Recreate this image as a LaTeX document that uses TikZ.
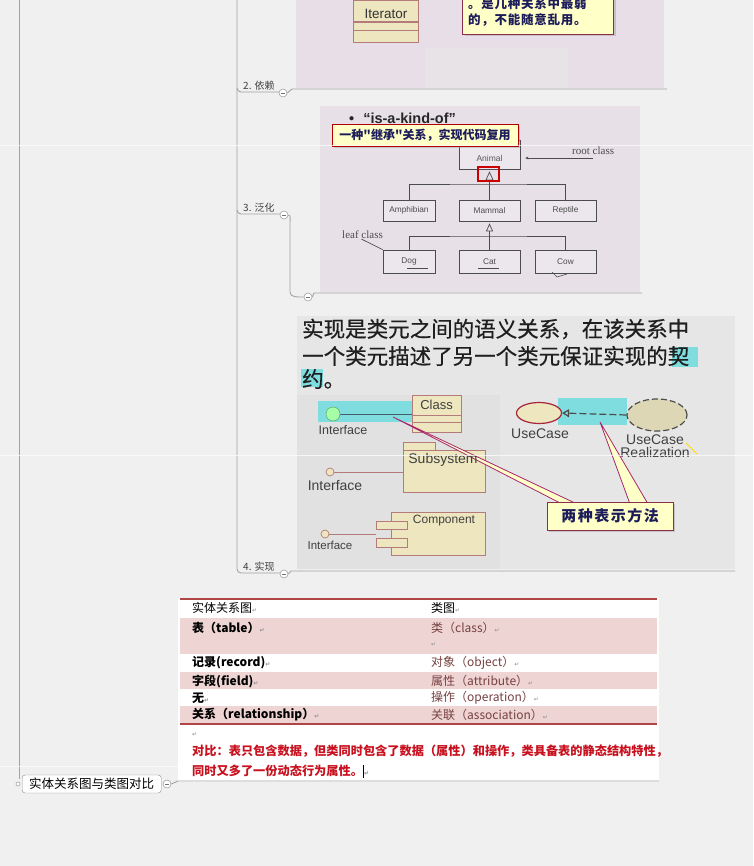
\documentclass[tikz,border=0pt]{standalone}
\usepackage{fontspec}
\setmainfont{Liberation Sans}
\newfontfamily\cjk{Noto Sans CJK SC}
\newfontfamily\serifrm{Liberation Serif}
\newfontfamily\symfont{DejaVu Sans}
\usetikzlibrary{arrows.meta,positioning,shapes.geometric,shadows}

\definecolor{bgcol}{HTML}{F0F0F0}
\definecolor{linecol}{HTML}{A2A2A2}
\definecolor{picpink}{HTML}{E7DEE7}
\definecolor{picgray}{HTML}{E6E6E6}
\definecolor{boxfill}{HTML}{ECE7EC}
\definecolor{umlfill}{HTML}{EEE6BE}
\definecolor{umlline}{HTML}{B57A7A}
\definecolor{notefill}{HTML}{FFFFC8}
\definecolor{notebrd}{HTML}{8E2F4A}
\definecolor{notetext}{HTML}{1C1C5A}
\definecolor{cyanfill}{HTML}{7FDDE0}
\definecolor{rowpink}{HTML}{EFD4D4}
\definecolor{tblred}{HTML}{B04545}
\definecolor{redtext}{HTML}{C8101E}
\definecolor{browntext}{HTML}{764040}

\newcommand{\fsz}[1]{\fontsize{#1}{#1}\selectfont}
\newcommand{\pmark}{{\symfont\fontsize{6}{7}\selectfont\color{black!45}↵}}

\begin{document}
\begin{tikzpicture}[x=1pt,y=-1pt,
    branch/.style={draw=linecol,line width=0.9pt},
    fold/.style={circle,draw=linecol,fill=white,inner sep=0pt,minimum size=8pt,line width=0.6pt,
      path picture={\draw[black!55,line width=0.6pt] ([xshift=2pt]path picture bounding box.west) -- ([xshift=-2pt]path picture bounding box.east);}},
    topic/.style={font=\cjk\fsz{10},text=black!75,inner sep=0pt,anchor=south west},
    rootnode/.style={draw=black!45,fill=white,rounded corners=3pt,font=\cjk\fsz{12.5},minimum height=18pt,inner xsep=7pt,inner ysep=0pt,anchor=west},
    umlshape/.style={draw=umlline,fill=umlfill,line width=0.7pt},
    clsbox/.style={draw=black!70,fill=boxfill,line width=0.7pt,inner sep=0pt,text=black!70,font=\fsz{8.3}},
    note/.style={draw=notebrd,fill=notefill,line width=1pt,text=notetext,
      drop shadow={shadow xshift=2pt,shadow yshift=-2pt,fill=black!35}},
    gen/.style={draw=black!70,line width=0.7pt},
    lbl/.style={text=black!75,inner sep=0pt},
    bigtext/.style={lbl,anchor=west,text=black!88,font=\cjk\fsz{21.5}\addfontfeature{FakeBold=0.6}},
    cell/.style={font=\cjk\fsz{12},inner sep=0pt,anchor=west},
    redline/.style={font=\cjk\bfseries\fsz{12.2},text=redtext,inner sep=0pt,anchor=west},
  ]
  \useasboundingbox (0,0) rectangle (753,866);
  \fill[bgcol] (0,0) rectangle (753,866);

  % mind map trunk and branches
  \draw[branch] (19,0) -- (19,779);
  \draw[branch] (237,0) -- (237,569) to[out=-90,in=180] (241,573) -- (280,573);
  \draw[branch] (237,88) to[out=-90,in=180] (241,92) -- (279,92);
  \draw[branch] (237,210) to[out=-90,in=180] (241,214) -- (280,214);

  \node[topic] (dep) at (243,91) {2. 依赖};
  \node[topic] (gen) at (243,213) {3. 泛化};
  \node[topic] (real) at (243,572) {4. 实现};

  \node[fold] (f2) at (283,93) {};
  \node[fold] (f3) at (284,215) {};
  \node[fold] (f3b) at (308,297) {};
  \node[fold] (f4) at (284,574) {};

  \coordinate (u1) at (292,89);
  \coordinate (u2) at (314,293);
  \coordinate (u3) at (291,571);
  \draw[branch] (f2.east) -- (u1) -- (667,89);
  \draw[branch] (f3.east) to[out=0,in=90] (290,222) -- (290,292) to[out=-90,in=180] (f3b.west);
  \draw[branch] (f3b.east) -- (u2) -- (642,293);
  \draw[branch] (f4.east) -- (u3) -- (735,571);

  % picture 1: dependency (cut at the top)
  \begin{scope}
    \clip (296,0) rectangle (664,88);
    \fill[picpink] (296,0) rectangle (664,88);
    \fill[picgray!60!picpink] (425,48) rectangle (568,88);
    \node[umlshape,minimum width=65pt,minimum height=21pt,inner sep=0pt,anchor=south west] (iter) at (353,22) {};
    \node[lbl,font=\fsz{13.5},text=black!80] at (386,14) {Iterator};
    \draw[umlshape] (iter.south west) rectangle ++(65,8);
    \draw[umlshape] ([yshift=-8pt]iter.south west) rectangle ++(65,12);
    \node[note,minimum width=151pt,minimum height=52pt,anchor=south west,inner sep=0pt] (weak) at (462,35) {};
    \node[lbl,anchor=west,text=notetext,font=\cjk\bfseries\fsz{12.5}\addfontfeature{LetterSpace=6}] (weak1) at (468,4) {。是几种关系中最弱};
    \node[lbl,anchor=west,text=notetext,font=\cjk\bfseries\fsz{12.5}\addfontfeature{LetterSpace=6}] (weak2) at (468,20) {的，不能随意乱用。};
  \end{scope}

  % picture 2: generalisation
  \fill[picpink!60!picgray] (320,106) rectangle (640,292);
  \fill[picpink!70!picgray] (545,185) rectangle (640,292);
  \node[lbl,anchor=west,font=\bfseries\fsz{14.5},text=black!85] (isa) at (349,118) {\textbullet\hspace{9pt}“is-a-kind-of”};
  \node[clsbox,minimum width=61pt,minimum height=29pt] (animal) at (489.5,154.5) {};
  \node[lbl,font=\fsz{8.5},text=black!65] at (489.5,158) {Animal};
  \node[note,draw=red!70!black,line width=0.8pt,minimum width=186pt,minimum height=22pt,inner sep=0pt,
    font=\cjk\bfseries\fsz{12}] (inherit) at (425,135) {一种"继承"关系，实现代码复用};

  \node[clsbox,minimum width=52pt,minimum height=21pt] (amphibian) at (409,210.5) {Amphibian};
  \node[clsbox,minimum width=61pt,minimum height=21pt] (mammal) at (489.5,210.5) {Mammal};
  \node[clsbox,minimum width=61pt,minimum height=21pt] (reptile) at (565.5,210.5) {Reptile};
  \node[clsbox,minimum width=52pt,minimum height=23pt] (dog) at (409,261.5) {Dog};
  \node[clsbox,minimum width=61pt,minimum height=23pt] (cat) at (489.5,261.5) {Cat};
  \node[clsbox,minimum width=61pt,minimum height=23pt] (cow) at (565.5,261.5) {Cow};

  \coordinate (bus1) at (489.5,184);
  \coordinate (bus2) at (489.5,236);
  \draw[gen,-{Triangle[open,length=9pt,width=8pt]}] (bus1) -- ([yshift=-2pt]animal.south);
  \draw[gen] (amphibian.north) |- (bus1) -| (reptile.north);
  \draw[gen] (mammal.north) -- (bus1);
  \draw[gen,-{Triangle[open,length=8pt,width=7pt]}] (bus2) -- ([yshift=-2pt]mammal.south);
  \draw[gen] (dog.north) |- (bus2) -| (cow.north);
  \draw[gen] (cat.north) -- (bus2);
  \draw[red!80!black,line width=1.2pt] (478,167) rectangle (499,181);

  \node[lbl,anchor=west,font=\serifrm\fsz{11},text=black!70] (rootlbl) at (572,151) {root class};
  \coordinate (rootend) at (593,158);
  \draw[gen,-{Stealth[length=3pt,width=3pt]}] (rootend) -- ([xshift=5pt]animal.east |- rootend);
  \node[lbl,anchor=west,font=\serifrm\fsz{11},text=black!70] (leaflbl) at (342,235) {leaf class};
  \draw[gen] ([xshift=-1pt]leaflbl.south) -- (dog.north west);
  \draw[black!70,line width=0.6pt] (407,268) -- (428,268) (478,268) -- (499,268);
  \draw[black!70,line width=0.6pt] (552,272) -- (557,277) -- (567,274);

  % picture 3: realisation
  \fill[picgray] (297,316) rectangle (735,569);
  \fill[black!2!picgray] (297,395) rectangle (500,569);
  \fill[cyanfill] (672,347) rectangle (698,367);
  \fill[cyanfill] (301,369) rectangle (323,387);
  \node[bigtext] (t1) at (302,329) {实现是类元之间的语义关系，在该关系中};
  \node[bigtext] (t2) at (302,356) {一个类元描述了另一个类元保证实现的契};
  \node[bigtext] (t3) at (302,379) {约。};

  \fill[cyanfill] (318,401) rectangle (412,422);
  \node[umlshape,minimum width=49pt,minimum height=37pt,inner sep=0pt] (cls) at (436.5,413.5) {};
  \draw[umlline,line width=0.7pt] (412,415) -- (461,415) (412,422) -- (461,422);
  \node[lbl,font=\fsz{13}] at (436.5,405) {Class};
  \node[circle,draw=green!45!black!70,fill=green!35!white,minimum size=14pt,inner sep=0pt] (ifc1) at (333,414) {};
  \draw[black!45!cyan!60!black,line width=0.8pt] (ifc1.east) -- (cls.west |- ifc1);
  \node[lbl,font=\fsz{12.5}] (ifl1) at (343,430) {Interface};

  \draw[umlshape] (403,442) rectangle (435,450);
  \node[umlshape,minimum width=82pt,minimum height=42pt,inner sep=0pt] (sub) at (444,471) {};
  \node[circle,umlshape,minimum size=8pt,inner sep=0pt] (ifc2) at (330,472) {};
  \draw[umlline,line width=0.8pt] (ifc2.east) -- (sub.west |- ifc2);
  \node[lbl,font=\fsz{14}] (ifl2) at (335,485) {Interface};

  \node[umlshape,minimum width=94pt,minimum height=43pt,inner sep=0pt] (comp) at (438,533.5) {};
  \draw[umlshape] (376,521) rectangle (407,529) (376,538) rectangle (407,547);
  \node[lbl,font=\fsz{12}] at (444,521) {Component};
  \node[circle,umlshape,minimum size=8pt,inner sep=0pt] (ifc3) at (325,534) {};
  \draw[umlline,line width=0.8pt,shorten >=15pt] (ifc3.east) -- (comp.west |- ifc3);
  \node[lbl,font=\fsz{11.5}] (ifl3) at (330,545) {Interface};

  \fill[cyanfill] (558,398) rectangle (627,425);
  \node[ellipse,draw=notebrd!80!red,fill=umlfill,line width=1.2pt,minimum width=45pt,minimum height=21pt,inner sep=0pt] (uc) at (539,413) {};
  \node[ellipse,draw=black!70,dash pattern=on 6pt off 3pt,fill=umlfill!85!gray,line width=1.2pt,minimum width=60pt,minimum height=32pt,inner sep=0pt] (ucr) at (657,415) {};
  \draw[black!70,line width=1.2pt,dash pattern=on 7pt off 3pt,-{Triangle[open,length=7pt,width=8pt]}] (ucr.west) -- (uc.east);
  \node[lbl,font=\fsz{14}] (ucl) at (540,434) {UseCase};
  \node[lbl,font=\fsz{14},align=center] (ucrl) at (655,446) {UseCase\\[-1pt]Realization};
  \draw[yellow!80!orange,line width=1pt] (686,443) -- (697,454);

  \filldraw[fill=notefill,draw=notebrd!80!magenta,line width=0.8pt] (562,504) -- (393,417) -- (577,504) -- cycle;
  \filldraw[fill=notefill,draw=notebrd!80!magenta,line width=0.8pt] (630,504) -- (600,422) -- (648,504) -- cycle;
  \node[lbl,font=\fsz{14}] (sublbl) at (443,460) {Subsystem};
  \node[note,minimum width=126pt,minimum height=28pt,inner sep=0pt,font=\cjk\bfseries\fsz{15}\addfontfeature{LetterSpace=10}] (two) at (610,516) {两种表示方法};

  % table: ER diagram vs class diagram
  \fill[white] (178,598) rectangle (659,782);
  \fill[rowpink] (180,618) rectangle (657,654);
  \fill[rowpink] (180,672) rectangle (657,689);
  \fill[rowpink] (180,706) rectangle (657,724);
  \draw[tblred,line width=1.4pt] (180,599) -- (657,599) (180,724) -- (657,724);

  \node[cell] (h1) at (192,608) {实体关系图\pmark};
  \node[cell] (h2) at (431,608) {类图\pmark};
  \node[cell,font=\cjk\bfseries\fsz{12}] (l1) at (192,628) {表（table）\pmark};
  \node[cell,text=browntext] (r1) at (431,628) {类（class）\pmark};
  \node[cell] (r1b) at (431,645) {\pmark};
  \node[cell,font=\cjk\bfseries\fsz{12}] (l2) at (192,663) {记录(record)\pmark};
  \node[cell,text=browntext] (r2) at (431,663) {对象（object）\pmark};
  \node[cell,font=\cjk\bfseries\fsz{12}] (l3) at (192,681) {字段(field)\pmark};
  \node[cell,text=browntext] (r3) at (431,681) {属性（attribute）\pmark};
  \node[cell,font=\cjk\bfseries\fsz{12}] (l4) at (192,698) {无\pmark};
  \node[cell,text=browntext] (r4) at (431,698) {操作（operation）\pmark};
  \node[cell,font=\cjk\bfseries\fsz{12}] (l5) at (192,715) {关系（relationship）\pmark};
  \node[cell,text=browntext] (r5) at (431,715) {关联（association）\pmark};
  \node[cell] (blank) at (192,735) {\pmark};
  \node[redline] (cmp1) at (192,751) {对比：表只包含数据，但类同时包含了数据（属性）和操作，类具备表的静态结构特性，};
  \node[redline] (cmp2) at (192,771) {同时又多了一份动态行为属性。\textcolor{black}{\rule[-2pt]{1.2pt}{13pt}}\pmark};

  % root topic
  \draw[linecol,fill=white,line width=0.6pt] (18,784) circle (2);
  \node[rootnode] (root) at (22,784) {实体关系图与类图对比};
  \node[fold] (froot) at (167,784) {};
  \coordinate (u4) at (178,781);
  \draw[branch] (froot.east) -- (u4) -- (659,781);

  % scan seams of the screenshot
  \draw[white,opacity=0.7,line width=0.8pt] (0,145) -- (753,145) (0,455) -- (753,455) (0,766) -- (178,766);
\end{tikzpicture}
\end{document}
